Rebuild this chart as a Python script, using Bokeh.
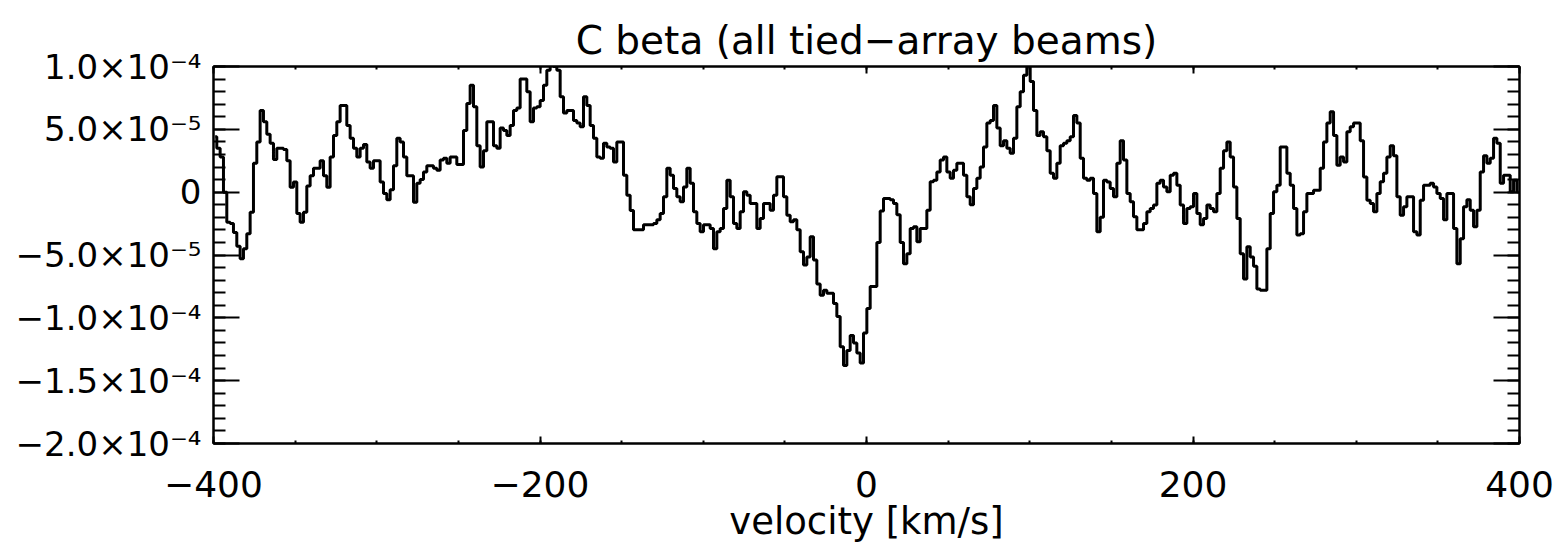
import numpy as np
from bokeh.plotting import figure
from bokeh.models import Range1d, LinearAxis, FixedTicker, CustomJSTickFormatter
from bokeh.embed import file_html
from bokeh.resources import INLINE

# Stacked C-beta spectrum, flux in units of 1e-5, one value per channel
flux_1e5 = [
    # -399 .. -267 km/s
    4.4, 3.5, 2.8, 0.0, -2.4, -2.5, -3.2, -4.3, -5.3, -4.5,
    -3.3, -1.6, 2.3, 4.0, 6.5, 5.6, 4.6, 3.9, 2.6, 3.5,
    3.5, 3.4, 2.5, 0.4, 0.8, -1.7, -2.4, -1.6, 0.5, 1.3,
    1.9, 1.9, 2.5, 1.3, 0.4, 2.8, 4.5, 5.6, 6.9, 6.9,
    5.3, 4.3, 3.5, 2.8, 3.5, 3.8, 2.4, 1.9, 2.5, 2.5,
    0.8, -0.1, -0.6, 0.2, 2.1, 4.3, 4.0, 2.8, 1.3, 1.3,
    -0.8, 0.7, 1.0, 1.6, 2.1, 2.1,
    # -264 .. -132 km/s
    1.9, 1.75, 2.55, 2.7, 2.3, 2.8, 2.8, 2.2, 2.2, 4.9,
    7.05, 8.5, 6.8, 3.7, 2.0, 3.3, 5.6, 5.6, 3.7, 3.5,
    5.1, 4.9, 4.5, 5.3, 6.5, 6.7, 9.0, 9.0, 8.0, 5.6,
    6.7, 6.8, 7.3, 8.5, 9.7, 10.1, 10.0, 9.7, 7.6, 6.3,
    6.5, 6.5, 5.7, 5.5, 5.2, 7.6, 6.9, 5.3, 4.3, 2.8,
    2.7, 3.9, 3.6, 3.5, 2.4, 4.0, 4.0, 1.35, -0.25, -1.45,
    -3.0, -3.0, -3.0, -2.6, -2.6, -2.6,
    # -129 .. +3 km/s
    -2.5, -2.2, -1.7, -0.37, 1.9, 1.35, 0.3, -0.37, -0.77, 0.42,
    1.9, 0.7, -1.56, -2.5, -3.15, -2.6, -2.6, -2.9, -4.5, -3.15,
    -2.9, -1.3, 0.95, -0.37, -2.5, -2.9, -1.56, 0.03, -0.24, -0.9,
    -0.9, -2.9, -2.1, -0.9, -0.9, -1.43, -0.24, 1.22, 1.22, -0.37,
    -1.83, -2.36, -2.2, -3.0, -4.75, -5.8, -5.15, -3.55, -5.4, -7.3,
    -8.2, -7.8, -8.05, -8.05, -8.85, -9.9, -12.3, -13.8, -12.6, -11.4,
    -12.0, -12.8, -13.6, -11.2, -9.25, -7.5,
    # +5 .. +138 km/s
    -7.5, -4.0, -1.5, -0.5, -0.5, -0.6, -0.9, -1.8, -4.0, -5.7,
    -4.9, -2.9, -2.75, -3.95, -2.9, -2.9, -1.43, 0.82, 0.95, 1.6,
    2.55, 2.8, 1.6, 1.1, 1.75, 2.3, 2.3, 1.35, -0.37, -1.0,
    0.3, 1.1, 2.0, 3.6, 5.5, 5.7, 6.9, 5.1, 3.7, 4.1,
    3.5, 3.1, 4.3, 6.8, 8.0, 9.3, 10.1, 8.8, 6.5, 4.5,
    4.8, 4.4, 3.3, 1.5, 1.1, 2.3, 3.7, 3.9, 4.1, 4.4,
    6.1, 5.5, 2.7, 1.1, 0.95, 1.1,
    # +140 .. +273 km/s
    -0.1, -3.15, -2.0, 0.95, 0.8, 0.3, -0.37, 2.3, 4.1, 2.55,
    -0.1, -0.77, -1.96, -3.0, -3.0, -2.5, -1.56, -1.3, -1.03, 0.7,
    0.95, 0.42, 0.03, 1.35, 1.5, 0.56, -1.03, -2.5, -1.3, -1.17,
    -0.1, -1.7, -2.6, -2.1, -1.03, -1.3, -1.56, -0.1, 1.9, 3.3,
    4.0, 2.8, 0.42, -2.1, -4.9, -6.9, -4.35, -5.15, -5.9, -7.7,
    -7.8, -7.8, -4.5, -1.7, 0.03, 0.56, 3.6, 3.6, 1.5, 0.56,
    -1.3, -3.4, -3.3, -1.56, -0.1, -0.1,
    # +275 .. +399 km/s
    0.16, 0.16, 1.9, 4.0, 5.5, 6.4, 4.5, 2.15, 2.8, 2.4,
    4.8, 5.2, 5.5, 5.5, 4.1, 1.2, -0.64, -0.9, -1.56, -0.1,
    0.82, 1.5, 2.8, 3.7, 2.9, -0.37, -1.83, -1.17, -0.37, -0.37,
    -3.15, -3.4, -0.64, 0.56, 0.56, 0.7, 0.42, -0.1, -0.5, -2.2,
    -0.1, -0.1, -2.9, -5.7, -3.7, -1.17, -0.6, -1.43, -2.75, -1.43,
    1.6, 2.9, 2.3, 2.7, 4.3, 3.9, 0.7, 1.35, 1.35, 0.03,
    0.95, 0.03,
]

# channel grid (km/s)
v_start = -399.0
dv = 2.042
velocity = v_start + dv * np.arange(len(flux_1e5))
flux = np.array(flux_1e5) * 1e-5

x_major = [-400, -200, 0, 200, 400]
x_minor = list(range(-400, 401, 50))
y_major = [-2.0e-4, -1.5e-4, -1.0e-4, -5.0e-5, 0.0, 5.0e-5, 1.0e-4]
y_minor = [k * 1e-5 for k in range(-20, 11)]

FONT = "DejaVu Sans"

p = figure(
    frame_width=1306, frame_height=377,
    x_range=Range1d(-400, 400), y_range=Range1d(-2.0e-4, 1.0e-4),
    output_backend="svg", toolbar_location=None,
    min_border_left=213, min_border_right=37,
    min_border_top=66, min_border_bottom=106,
    title="C beta (all tied\u2212array beams)",
    x_axis_label="velocity [km/s]",
)
p.background_fill_color = "white"
p.border_fill_color = "white"
p.grid.visible = False
p.outline_line_color = "black"
p.outline_line_width = 2

p.title.align = "center"
p.title.text_font = FONT
p.title.text_font_size = "39px"
p.title.text_font_style = "normal"
p.title.text_color = "black"
p.title.standoff = 8

xticker = FixedTicker(ticks=x_major, minor_ticks=x_minor)
yticker = FixedTicker(ticks=y_major, minor_ticks=y_minor)

x_fmt = CustomJSTickFormatter(code=r"""
return tick < 0 ? "\u2212" + Math.abs(tick).toFixed(0) : tick.toFixed(0);
""")
y_fmt = CustomJSTickFormatter(code=r"""
if (Math.abs(tick) < 1e-12) return "0";
const e = Math.floor(Math.log10(Math.abs(tick)) + 1e-9);
const m = tick / Math.pow(10, e);
const sup = {"-": "\u207b", "0": "\u2070", "1": "\u00b9", "2": "\u00b2", "3": "\u00b3",
             "4": "\u2074", "5": "\u2075", "6": "\u2076", "7": "\u2077", "8": "\u2078", "9": "\u2079"};
const es = String(e).split("").map(c => sup[c]).join("");
const ms = (m < 0 ? "\u2212" : "") + Math.abs(m).toFixed(1);
return ms + "\u00d7" + "10" + es;
""")
blank_fmt = CustomJSTickFormatter(code='return "";')


def style_axis(ax, major_len, minor_len, label_size="34px"):
    ax.axis_line_color = "black"
    ax.axis_line_width = 2
    ax.major_tick_line_color = "black"
    ax.major_tick_line_width = 2
    ax.minor_tick_line_color = "black"
    ax.minor_tick_line_width = 2
    ax.major_tick_in = major_len
    ax.major_tick_out = 0
    ax.minor_tick_in = minor_len
    ax.minor_tick_out = 0
    ax.major_label_text_font = FONT
    ax.major_label_text_font_size = label_size
    ax.major_label_text_color = "black"


xb = p.xaxis[0]
xb.ticker = xticker
xb.formatter = x_fmt
style_axis(xb, 7, 3, "36px")
xb.major_label_standoff = 27
xb.axis_label_text_font = FONT
xb.axis_label_text_font_size = "37px"
xb.axis_label_text_font_style = "normal"
xb.axis_label_text_color = "black"
xb.axis_label_standoff = 0

yl = p.yaxis[0]
yl.ticker = yticker
yl.formatter = y_fmt
style_axis(yl, 26, 12)
yl.major_label_standoff = 12

xt = LinearAxis(ticker=xticker, formatter=blank_fmt)
style_axis(xt, 7, 3, "1px")
xt.major_label_standoff = 0
p.add_layout(xt, "above")

yr = LinearAxis(ticker=yticker, formatter=blank_fmt)
style_axis(yr, 26, 12, "1px")
yr.major_label_standoff = 0
p.add_layout(yr, "right")

p.step(velocity, flux, mode="center", line_color="black", line_width=3)

open("out.html", "w").write(file_html(p, INLINE))
